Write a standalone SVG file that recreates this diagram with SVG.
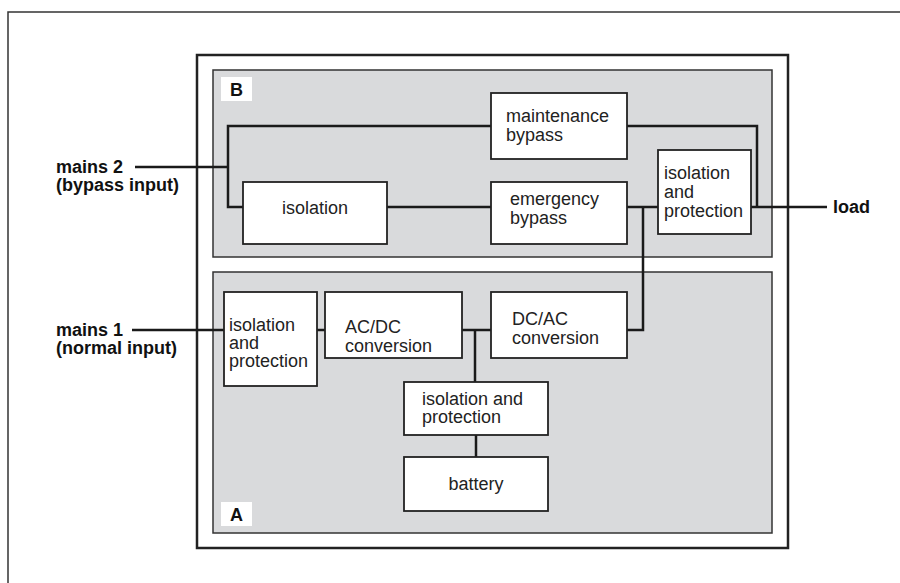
<svg xmlns="http://www.w3.org/2000/svg" width="900" height="583" viewBox="0 0 900 583">
  <style>
    .frame { fill: none; stroke: #333; stroke-width: 1.5; }
    .container { fill: #fff; stroke: #222; stroke-width: 2.5; }
    .panel { fill: #d9dadc; stroke: #333; stroke-width: 1.5; }
    .box { fill: #fff; stroke: #222; stroke-width: 1.8; }
    .tag { fill: #fff; stroke: none; }
    .wire { fill: none; stroke: #1a1a1a; stroke-width: 2.5; stroke-linejoin: miter; }
    text { font-family: "Liberation Sans", Arial, sans-serif; font-size: 18px; fill: #222; }
    .bold { font-weight: bold; fill: #111; }
    .mid { text-anchor: middle; }
  </style>

  <!-- page frame -->
  <rect class="frame" x="8" y="12" width="900" height="590"/>

  <!-- UPS enclosure -->
  <rect id="enclosure" class="container" x="197" y="55" width="591" height="493"/>

  <!-- bypass section -->
  <g id="panel-b">
    <rect class="panel" x="213" y="70" width="559" height="187"/>
    <rect class="tag" x="221" y="77" width="31" height="24"/>
    <text class="bold mid" x="236.5" y="96">B</text>
  </g>

  <!-- normal section -->
  <g id="panel-a">
    <rect class="panel" x="213" y="272" width="559" height="261"/>
    <rect class="tag" x="221" y="502" width="31" height="24"/>
    <text class="bold mid" x="236.5" y="521">A</text>
  </g>

  <!-- connectors -->
  <g id="connectors">
    <path class="wire" d="M135 167 H228"/>
    <path class="wire" d="M491 126 H228 V207 H243"/>
    <path class="wire" d="M387 207 H491"/>
    <path class="wire" d="M627 126 H757 V207"/>
    <path class="wire" d="M627 207 H658"/>
    <path class="wire" d="M751 207 H827"/>
    <path class="wire" d="M643 207 V330 H627"/>
    <path class="wire" d="M132 330 H224"/>
    <path class="wire" d="M317 330 H325"/>
    <path class="wire" d="M462 330 H491"/>
    <path class="wire" d="M475 330 V382"/>
    <path class="wire" d="M476 435 V457"/>
  </g>

  <!-- external labels -->
  <g id="mains2">
    <text class="bold" x="56" y="173">mains 2</text>
    <text class="bold" x="56" y="191">(bypass input)</text>
  </g>
  <g id="mains1">
    <text class="bold" x="56" y="336">mains 1</text>
    <text class="bold" x="56" y="354">(normal input)</text>
  </g>
  <g id="load">
    <text class="bold" x="833" y="213">load</text>
  </g>

  <!-- bypass section blocks -->
  <g id="maintenance-bypass">
    <rect class="box" x="491" y="93" width="136" height="66"/>
    <text x="506" y="122">maintenance</text>
    <text x="506" y="141">bypass</text>
  </g>
  <g id="isolation">
    <rect class="box" x="243" y="182" width="144" height="62"/>
    <text class="mid" x="315" y="214">isolation</text>
  </g>
  <g id="emergency-bypass">
    <rect class="box" x="491" y="182" width="136" height="62"/>
    <text x="510" y="205">emergency</text>
    <text x="510" y="224">bypass</text>
  </g>
  <g id="output-isolation">
    <rect class="box" x="658" y="150" width="93" height="84"/>
    <text x="664" y="179">isolation</text>
    <text x="664" y="198">and</text>
    <text x="664" y="217">protection</text>
  </g>

  <!-- normal section blocks -->
  <g id="input-isolation">
    <rect class="box" x="224" y="292" width="93" height="94"/>
    <text x="229" y="331">isolation</text>
    <text x="229" y="349">and</text>
    <text x="229" y="367">protection</text>
  </g>
  <g id="rectifier">
    <rect class="box" x="325" y="292" width="137" height="66"/>
    <text x="345" y="333">AC/DC</text>
    <text x="345" y="352">conversion</text>
  </g>
  <g id="inverter">
    <rect class="box" x="491" y="292" width="136" height="66"/>
    <text x="512" y="325">DC/AC</text>
    <text x="512" y="344">conversion</text>
  </g>
  <g id="battery-isolation">
    <rect class="box" x="404" y="382" width="144" height="53"/>
    <text x="422" y="405">isolation and</text>
    <text x="422" y="423">protection</text>
  </g>
  <g id="battery">
    <rect class="box" x="404" y="457" width="144" height="54"/>
    <text class="mid" x="476" y="490">battery</text>
  </g>
</svg>
